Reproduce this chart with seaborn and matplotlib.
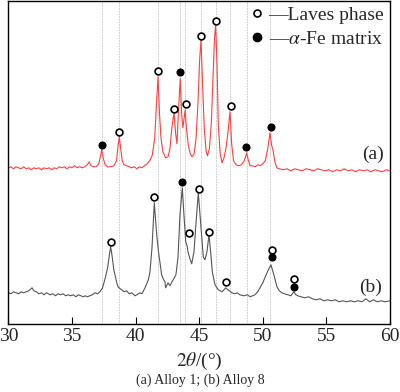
import numpy as np
import pandas as pd
import matplotlib
matplotlib.use('Agg')
import matplotlib.pyplot as plt
from matplotlib.lines import Line2D
import seaborn as sns

a_theta = [30.0, 30.2, 30.4, 30.6, 30.8, 31.0, 31.2, 31.4, 31.6, 31.8, 32.0, 32.2, 32.4, 32.6, 32.8,
           33.0, 33.2, 33.4, 33.6, 33.8, 34.0, 34.2, 34.4, 34.6, 34.8, 35.0, 35.2, 35.4, 35.6, 35.8,
           36.0, 36.2, 36.35, 36.5, 36.7, 36.9, 37.1, 37.25, 37.34, 37.45, 37.6, 37.8, 38.0, 38.3,
           38.5, 38.62, 38.72, 38.82, 38.95, 39.1, 39.3, 39.5, 39.7, 39.9, 40.1, 40.3, 40.5, 40.7,
           40.9, 41.1, 41.3, 41.5, 41.62, 41.76, 41.88, 42.0, 42.15, 42.35, 42.55, 42.7, 42.85, 43.02,
           43.15, 43.25, 43.38, 43.51, 43.62, 43.72, 43.9, 44.0, 44.15, 44.3, 44.45, 44.6, 44.75, 44.9,
           45.04, 45.14, 45.25, 45.4, 45.55, 45.65, 45.8, 45.95, 46.1, 46.2, 46.29, 46.4, 46.5, 46.65,
           46.8, 46.95, 47.1, 47.25, 47.42, 47.55, 47.7, 47.9, 48.1, 48.3, 48.5, 48.62, 48.73, 48.85,
           49.0, 49.2, 49.4, 49.6, 49.8, 50.0, 50.2, 50.4, 50.56, 50.7, 50.8, 50.95, 51.1, 51.3, 51.6,
           51.9, 52.2, 52.5, 52.8, 53.1, 53.4, 53.7, 54.0, 54.3, 54.6, 54.9, 55.2, 55.5, 55.8, 56.1,
           56.4, 56.7, 57.0, 57.3, 57.6, 57.9, 58.2, 58.5, 58.8, 59.1, 59.4, 59.7, 60.0]
a_int = [156, 157, 155, 157, 156, 155, 157, 155, 156, 154, 156, 155, 156, 154, 156,
         155, 156, 154, 156, 155, 157, 156, 157, 155, 157, 156, 158, 156, 157, 156,
         157, 159, 162, 158, 157, 157, 160, 168, 174, 166, 159, 157, 157, 158,
         163, 178, 187, 176, 163, 159, 158, 157, 156, 157, 155, 157, 156, 158,
         160, 163, 168, 185, 215, 247, 210, 185, 172, 166, 167, 175, 196, 211,
         190, 180, 215, 245, 210, 196, 214, 195, 178, 170, 167, 170, 185, 220,
         265, 284, 245, 195, 172, 168, 175, 200, 250, 285, 299, 260, 200, 170,
         161, 166, 175, 190, 212, 180, 163, 159, 158, 159, 162, 166, 171, 164,
         158, 158, 157, 159, 158, 160, 163, 176, 191, 178, 174, 162, 156, 155, 154,
         155, 153, 155, 154, 153, 155, 154, 153, 155, 154, 153, 154, 152, 154, 153,
         155, 153, 154, 152, 154, 153, 154, 152, 154, 153, 152, 154, 153]

b_theta = [30.0, 30.2, 30.4, 30.6, 30.8, 31.0, 31.2, 31.4, 31.6, 31.86, 32.0, 32.2, 32.4, 32.6, 32.8,
           33.0, 33.28, 33.5, 33.7, 33.9, 34.1, 34.3, 34.5, 34.7, 34.9, 35.1, 35.3, 35.5, 35.7, 35.9,
           36.03, 36.2, 36.4, 36.6, 36.81, 37.0, 37.2, 37.4, 37.6, 37.8, 37.95, 38.04, 38.15, 38.3,
           38.38, 38.5, 38.62, 38.8, 38.91, 39.1, 39.3, 39.5, 39.7, 39.95, 40.1, 40.35, 40.5, 40.74,
           41.0, 41.13, 41.29, 41.47, 41.66, 41.8, 41.92, 42.05, 42.2, 42.31, 42.36, 42.55, 42.7,
           42.86, 43.0, 43.17, 43.33, 43.49, 43.67, 43.8, 43.94, 44.05, 44.12, 44.25, 44.41, 44.59,
           44.74, 44.93, 45.14, 45.32, 45.45, 45.61, 45.77, 45.92, 46.03, 46.24, 46.5, 46.79, 46.95,
           47.08, 47.26, 47.57, 47.8, 48.0, 48.2, 48.5, 48.8, 48.99, 49.2, 49.38, 49.6, 49.78, 50.0,
           50.16, 50.4, 50.64, 50.87, 51.11, 51.3, 51.5, 51.7, 51.97, 52.2, 52.44, 52.6, 52.75, 53.0,
           53.3, 53.6, 53.9, 54.2, 54.5, 54.8, 55.1, 55.4, 55.7, 56.0, 56.3, 56.6, 56.9, 57.2, 57.5,
           57.8, 58.1, 58.4, 58.7, 59.0, 59.3, 59.6, 60.0]
b_int = [31, 30, 32, 31, 30, 32, 31, 32, 33, 36, 33, 32, 30, 31, 29,
         31, 29, 30, 28, 30, 29, 30, 28, 29, 28, 29, 27, 29, 28, 27,
         28, 27, 28, 29, 31, 30, 32, 36, 45, 56, 70, 77, 68, 53,
         49, 42, 37, 35, 34, 32, 33, 30, 31, 28, 29, 31, 30, 36,
         44, 52, 76, 121, 89, 72, 61, 49, 44, 42, 36, 41, 38,
         42, 45, 49, 66, 109, 136, 109, 82, 78, 72, 66, 60, 72,
         99, 131, 96, 67, 64, 72, 89, 69, 52, 39, 34, 32, 34,
         36, 34, 31, 30, 31, 29, 28, 29, 27, 28, 29, 32, 36, 41,
         46, 53, 59, 49, 37, 33, 31, 30, 29, 28, 32, 29, 28, 27,
         26, 27, 25, 24, 25, 23, 24, 23, 24, 22, 23, 22, 23, 22, 23,
         22, 25, 22, 24, 22, 23, 22, 23]

# reference lines at the alloy 1 reflections
ref_lines = [37.34, 38.72, 41.76, 43.51, 43.90, 45.14, 46.29, 47.42, 48.73, 50.56]

# phase markers (position, height)
laves_x = [38.72, 41.76, 43.02, 43.96, 45.14, 46.29, 47.47,
           38.07, 41.47, 44.19, 44.98, 45.77, 47.10, 50.69, 52.47]
laves_y = [192, 253, 215, 220, 288, 303, 218,
           82, 127, 91, 135, 92, 42, 74, 45]
fe_x = [37.34, 43.51, 48.65, 50.61, 43.67, 50.69, 52.47]
fe_y = [179, 252, 177, 197, 142, 67, 37]

sns.set_style('ticks')
plt.rcParams['font.family'] = ['Liberation Serif', 'DejaVu Serif']
plt.rcParams['mathtext.fontset'] = 'stix'

fig = plt.figure(figsize=(4, 3.92), dpi=100)
ax = fig.add_axes([0.021, 0.174, 0.954, 0.824])

for x in ref_lines:
    ax.axvline(x, color='#c4c4c4', lw=0.6, ls=(0, (2, 1.2)), zorder=0)

sns.lineplot(x=a_theta, y=a_int, ax=ax, color='#ff4040', lw=0.8, sort=False, estimator=None)
sns.lineplot(x=b_theta, y=b_int, ax=ax, color='#555555', lw=0.8, sort=False, estimator=None)

sns.scatterplot(x=laves_x, y=laves_y, ax=ax, marker='o', s=24, facecolor='white',
                edgecolor='black', linewidth=1.2, zorder=5)
sns.scatterplot(x=fe_x, y=fe_y, ax=ax, marker='o', s=34, color='black',
                edgecolor='black', linewidth=0, zorder=5)

ax.text(58.65, 169, '(a)', fontsize=14, ha='center', va='center')
ax.text(58.5, 36, '(b)', fontsize=14, ha='center', va='center')

handles = [Line2D([], [], marker='o', ls='none', ms=5, mfc='white', mec='black', mew=1.2),
           Line2D([], [], marker='o', ls='none', ms=6, mfc='black', mec='black')]
ax.legend(handles, ['\u2014Laves phase', '\u2014$\\alpha$-Fe matrix'], loc='upper right',
          frameon=False, fontsize=14, handlelength=0.6, handletextpad=0.3,
          borderaxespad=0.2, labelspacing=0.32, borderpad=0.1)

ax.set_xlim(30, 60)
ax.set_ylim(0, 323)
ax.set_xticks([30, 35, 40, 45, 50, 55, 60])
ax.set_yticks([])
ax.tick_params(axis='x', direction='in', length=5, width=0.8, labelsize=14, pad=3, color='black')
for sp in ax.spines.values():
    sp.set_visible(True)
    sp.set_color('black')
    sp.set_linewidth(1.0)
ax.set_xlabel('$2\\theta$/(°)', fontsize=14, labelpad=4)
ax.set_ylabel('')

fig.text(0.5, 0.031, '(a) Alloy 1; (b) Alloy 8', ha='center', va='center', fontsize=10)

fig.savefig('out.png', dpi=100)
